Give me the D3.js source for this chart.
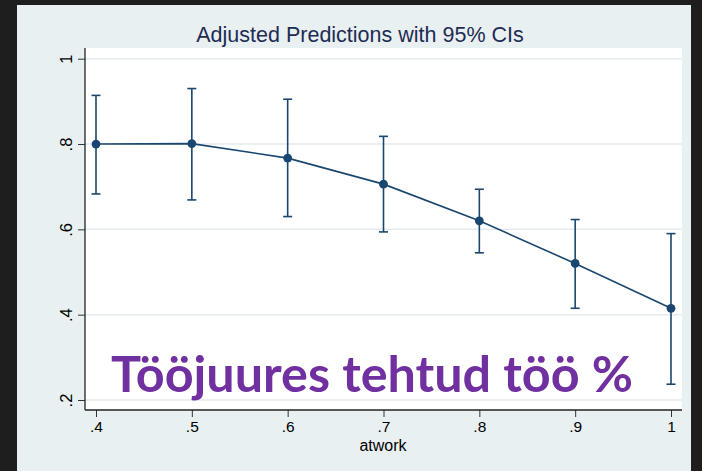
<!DOCTYPE html>
<html>
<head>
<meta charset="utf-8">
<script src="https://cdn.jsdelivr.net/npm/d3@7"></script>
<style>
  body { margin: 0; background: #1e1e1e; }
  svg { display: block; }
</style>
</head>
<body>
<div id="chart"></div>
<script>
//Data
var atwork = [0.4, 0.5, 0.6, 0.7, 0.8, 0.9, 1];
var margins = [0.800, 0.801, 0.767, 0.706, 0.620, 0.520, 0.415];
var ci_lower = [0.683, 0.669, 0.630, 0.594, 0.545, 0.415, 0.237];
var ci_upper = [0.914, 0.930, 0.905, 0.818, 0.694, 0.623, 0.590];
var xticklabels = [".4", ".5", ".6", ".7", ".8", ".9", "1"];
var yticks = [0.2, 0.4, 0.6, 0.8, 1];
var yticklabels = [".2", ".4", ".6", ".8", "1"];
var title = "Adjusted Predictions with 95% CIs";
var xtitle = "atwork";
var overlay = "Tööjuures tehtud töö %";

//Variables
var outerWidth = 702, outerHeight = 471;
var bgcolor = "#e9f0f2";
var bordercolor = "#1e1e1e";
var linecolor = "#1a476f";
var gridcolor = "#e4ecef";
var font = "'Liberation Sans', Arial, sans-serif";

// plot region
var plot = { left: 85, right: 682, top: 48, bottom: 410 };

var svg = d3.select("#chart").append("svg")
  .attr("width", outerWidth)
  .attr("height", outerHeight);

//Outer frame and graph background
svg.append("rect")
  .attr("width", outerWidth).attr("height", outerHeight)
  .attr("fill", bordercolor);
svg.append("rect")
  .attr("x", 17).attr("y", 5)
  .attr("width", 691 - 17).attr("height", outerHeight - 5)
  .attr("fill", bgcolor);
svg.append("rect")
  .attr("x", plot.left).attr("y", plot.top)
  .attr("width", plot.right - plot.left).attr("height", plot.bottom - plot.top)
  .attr("fill", "white");

// scales
var x = d3.scaleLinear().domain([0.4, 1]).range([96, 671]);
var y = d3.scaleLinear().domain([0.2, 1]).range([400, 58.7]);

//Gridlines
svg.append("g")
  .selectAll("line")
  .data(yticks)
  .enter().append("line")
  .attr("x1", plot.left).attr("x2", plot.right)
  .attr("y1", function(d) { return y(d); })
  .attr("y2", function(d) { return y(d); })
  .attr("stroke", gridcolor)
  .attr("stroke-width", 1.5);

//X axis
var xAxis = d3.axisBottom(x)
  .tickValues(atwork)
  .tickFormat(function(d, i) { return xticklabels[i]; })
  .tickSize(7)
  .tickSizeOuter(0)
  .tickPadding(4);

var gx = svg.append("g")
  .attr("transform", "translate(0," + plot.bottom + ")")
  .call(xAxis);
gx.select(".domain").remove();
gx.selectAll("line").attr("stroke", "#333");
gx.selectAll("text")
  .attr("font-family", font)
  .attr("font-size", 15.5)
  .attr("fill", "#000");

//Y axis
var yAxis = d3.axisLeft(y)
  .tickValues(yticks)
  .tickFormat(function(d, i) { return yticklabels[i]; })
  .tickSize(7)
  .tickSizeOuter(0);

var gy = svg.append("g")
  .attr("transform", "translate(" + plot.left + ",0)")
  .call(yAxis);
gy.select(".domain").remove();
gy.selectAll("line").attr("stroke", "#333");
gy.selectAll("text")
  .attr("x", 0).attr("dy", 0)
  .attr("transform", "translate(-13,0) rotate(-90)")
  .attr("text-anchor", "middle")
  .attr("font-family", font)
  .attr("font-size", 16.5)
  .attr("fill", "#000");

// axis lines
svg.append("line")
  .attr("x1", plot.left).attr("x2", plot.right)
  .attr("y1", plot.bottom).attr("y2", plot.bottom)
  .attr("stroke", "#222").attr("stroke-width", 1.3);
svg.append("line")
  .attr("x1", plot.left).attr("x2", plot.left)
  .attr("y1", plot.top).attr("y2", plot.bottom)
  .attr("stroke", "#222").attr("stroke-width", 1.3);

//Titles
svg.append("text")
  .attr("x", 360).attr("y", 42)
  .attr("text-anchor", "middle")
  .attr("font-family", font)
  .attr("font-size", 21.5)
  .attr("fill", "#1e2c52")
  .text(title);

svg.append("text")
  .attr("x", 383).attr("y", 450.5)
  .attr("text-anchor", "middle")
  .attr("font-family", font)
  .attr("font-size", 16)
  .attr("fill", "#000")
  .text(xtitle);

//Confidence intervals
var ci = svg.append("g")
  .attr("stroke", linecolor)
  .attr("stroke-width", 1.6)
  .selectAll("g")
  .data(atwork)
  .enter().append("g");

ci.append("line")
  .attr("x1", function(d) { return x(d); })
  .attr("x2", function(d) { return x(d); })
  .attr("y1", function(d, i) { return y(ci_lower[i]); })
  .attr("y2", function(d, i) { return y(ci_upper[i]); });
ci.append("line")
  .attr("x1", function(d) { return x(d) - 4.5; })
  .attr("x2", function(d) { return x(d) + 4.5; })
  .attr("y1", function(d, i) { return y(ci_upper[i]); })
  .attr("y2", function(d, i) { return y(ci_upper[i]); });
ci.append("line")
  .attr("x1", function(d) { return x(d) - 4.5; })
  .attr("x2", function(d) { return x(d) + 4.5; })
  .attr("y1", function(d, i) { return y(ci_lower[i]); })
  .attr("y2", function(d, i) { return y(ci_lower[i]); });

//Prediction line and markers
var line = d3.line()
  .x(function(d, i) { return x(atwork[i]); })
  .y(function(d) { return y(d); });

svg.append("path")
  .datum(margins)
  .attr("d", line)
  .attr("fill", "none")
  .attr("stroke", linecolor)
  .attr("stroke-width", 1.6);

svg.append("g")
  .selectAll("circle")
  .data(margins)
  .enter().append("circle")
  .attr("cx", function(d, i) { return x(atwork[i]); })
  .attr("cy", function(d) { return y(d); })
  .attr("r", 4.4)
  .attr("fill", linecolor);

//Purple overlay label
var big = svg.append("text")
  .attr("x", 111).attr("y", 392)
  .attr("font-family", "Lato, 'Noto Sans', sans-serif")
  .attr("font-weight", 700)
  .attr("font-size", 49)
  .attr("fill", "#7030a0")
  .text(overlay);
// stretch to the width seen in the picture
big.attr("textLength", 522).attr("lengthAdjust", "spacingAndGlyphs");
</script>
</body>
</html>
